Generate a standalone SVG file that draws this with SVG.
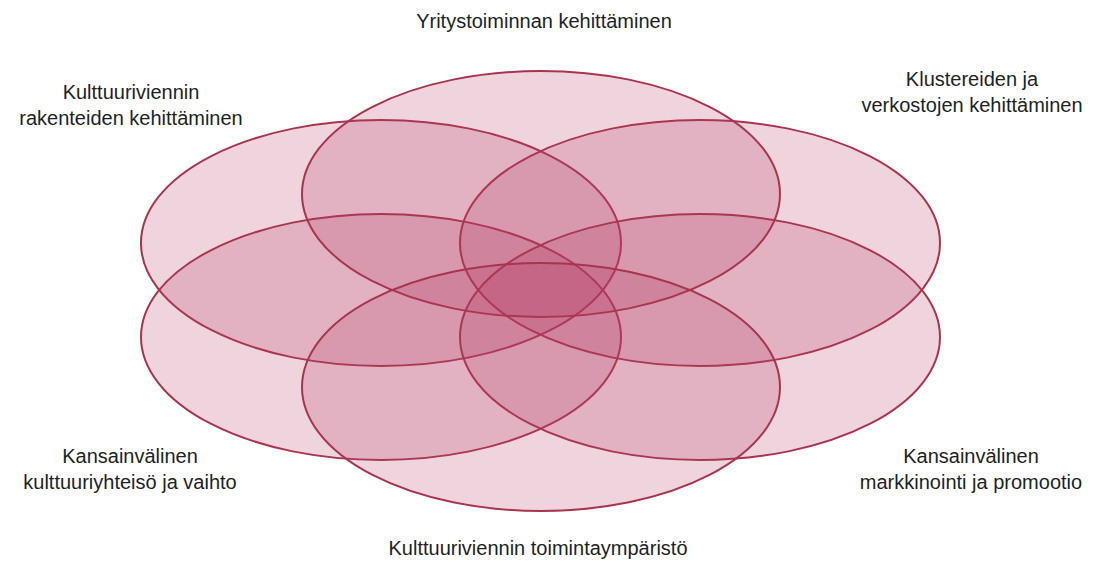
<svg xmlns="http://www.w3.org/2000/svg" width="1100" height="564" viewBox="0 0 1100 564">
  <style>
    .petal { fill: rgb(180,60,100); fill-opacity: 0.22; stroke: #a8354f; stroke-width: 2; }
    .lbl { font-family: "Liberation Sans", Arial, sans-serif; font-size: 20px; fill: #231f20; text-anchor: middle; }
  </style>
  <rect x="0" y="0" width="1100" height="564" fill="#ffffff"/>
  <g id="node-ul">
    <ellipse class="petal" cx="381" cy="243" rx="240" ry="123"/>
    <text class="lbl" x="131" y="99">Kulttuuriviennin</text>
    <text class="lbl" x="131" y="125">rakenteiden kehittäminen</text>
  </g>
  <g id="node-ll">
    <ellipse class="petal" cx="381" cy="337" rx="240" ry="123"/>
    <text class="lbl" x="130" y="463">Kansainvälinen</text>
    <text class="lbl" x="130" y="489">kulttuuriyhteisö ja vaihto</text>
  </g>
  <g id="node-ur">
    <ellipse class="petal" cx="700" cy="243" rx="240" ry="123"/>
    <text class="lbl" x="972" y="86">Klustereiden ja</text>
    <text class="lbl" x="972" y="112">verkostojen kehittäminen</text>
  </g>
  <g id="node-lr">
    <ellipse class="petal" cx="700" cy="337" rx="240" ry="123"/>
    <text class="lbl" x="971" y="463">Kansainvälinen</text>
    <text class="lbl" x="971" y="489">markkinointi ja promootio</text>
  </g>
  <g id="node-top">
    <ellipse class="petal" cx="541" cy="194" rx="239" ry="123"/>
    <text class="lbl" x="544" y="28">Yritystoiminnan kehittäminen</text>
  </g>
  <g id="node-bottom">
    <ellipse class="petal" cx="541" cy="387" rx="239" ry="124"/>
    <text class="lbl" x="538" y="555">Kulttuuriviennin toimintaympäristö</text>
  </g>
  <g id="connectors"></g>
</svg>
